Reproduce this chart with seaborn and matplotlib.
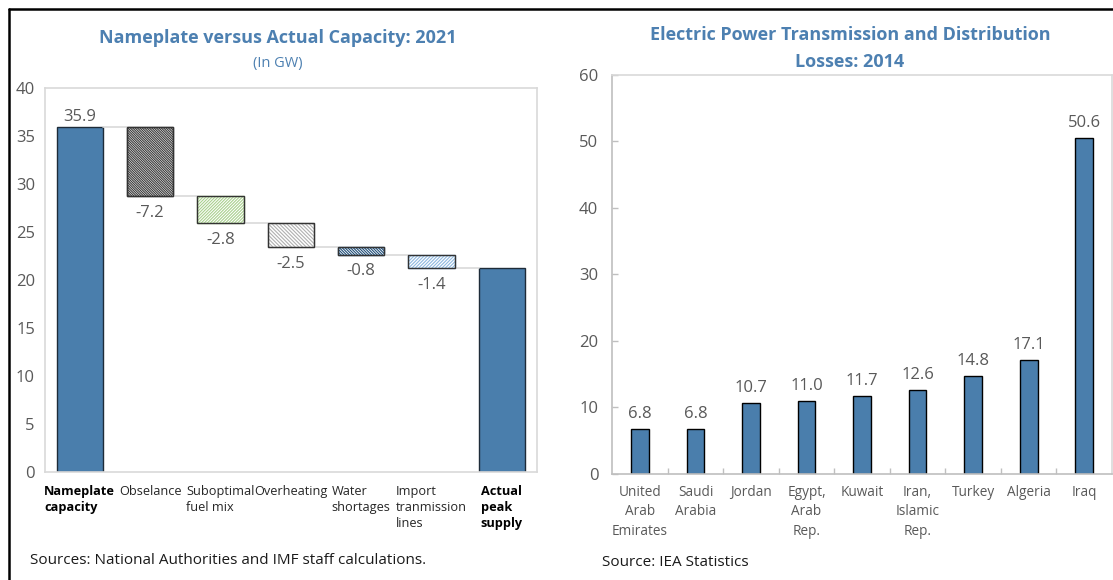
import numpy as np
import pandas as pd
import matplotlib.pyplot as plt
import matplotlib.patches as mpatches
import matplotlib.lines as mlines
import seaborn as sns

# data: waterfall (left)
steps = ["Nameplate\ncapacity", "Obselance", "Suboptimal\nfuel mix", "Overheating",
         "Water\nshortages", "Import\ntranmission\nlines", "Actual\npeak\nsupply"]
nameplate = 35.9
changes = [-7.2, -2.8, -2.5, -0.8, -1.4]

# data: losses (right)
countries = ["United\nArab\nEmirates", "Saudi\nArabia", "Jordan", "Egypt,\nArab\nRep.", "Kuwait",
             "Iran,\nIslamic\nRep.", "Turkey", "Algeria", "Iraq"]
losses = [6.8, 6.8, 10.7, 11.0, 11.7, 12.6, 14.8, 17.1, 50.6]

# hatch styles for the floating bars
hatch_styles = [("\\" * 14, "#3a3a3a"), ("/" * 11, "#a9d08e"), ("\\" * 9, "#b0b0b0"),
                ("\\" * 12, "#1f4e79"), ("/" * 10, "#8fb8e0")]

BLUE = "#4a7eac"
EDGE = "#1e2b38"
TITLE = "#4d80b1"
GRAY = "#595959"
SPINE = "#d9d9d9"

sns.set_theme(style="white")
plt.rcParams["font.family"] = ["Open Sans", "DejaVu Sans"]
plt.rcParams["hatch.linewidth"] = 0.8

fig = plt.figure(figsize=(11.13, 5.80), dpi=100)
ax1 = fig.add_axes([0.0401, 0.1862, 0.4424, 0.6621])
ax2 = fig.add_axes([0.5500, 0.1828, 0.4491, 0.6879])

# -------------------------------
# LEFT: WATERFALL
# -------------------------------
totals = nameplate + np.cumsum(changes)
actual = round(totals[-1], 1)
heights = [nameplate] + changes + [actual]
bottoms = [0, nameplate] + list(totals[:-1]) + [0]
wf = pd.DataFrame({"step": steps, "height": heights})

sns.barplot(data=wf, x="step", y="height", order=steps, color=BLUE, width=0.66,
            bottom=bottoms, edgecolor=EDGE, linewidth=1.0, saturation=1, ax=ax1)

bars = ax1.patches
for p, (h, hc) in zip(bars[1:-1], hatch_styles):
    p.set_facecolor("white")
    p.set_edgecolor(hc)
    p.set_hatch(h)
    ax1.add_patch(mpatches.Rectangle((p.get_x(), p.get_y()), p.get_width(), p.get_height(),
                                     fill=False, edgecolor="#333333", linewidth=1.0, zorder=3))

# connector lines
levels = [nameplate] + list(totals)
w = bars[0].get_width()
for i, lv in enumerate(levels):
    ax1.plot([i + w / 2, i + 1 - w / 2], [lv, lv], color=SPINE, lw=1.2, zorder=1)

cont = ax1.containers[0]
ax1.bar_label(cont, labels=[f"{nameplate:.1f}"] + [""] * (len(steps) - 1), padding=2,
              fontsize=12, color=GRAY)
ax1.bar_label(cont, labels=[""] + [f"{c:.1f}" for c in changes] + [""], padding=6,
              fontsize=12, color=GRAY)

ax1.set_ylim(0, 40)
ax1.set_xlim(-0.5, 6.5)
ax1.set_yticks(range(0, 41, 5))
ax1.set_xlabel("")
ax1.set_ylabel("")
ax1.tick_params(axis="y", length=0, labelsize=12, labelcolor=GRAY, pad=7)
ax1.tick_params(axis="x", length=0, labelsize=9.2, labelcolor="#262626", pad=9)
for i, t in enumerate(ax1.get_xticklabels()):
    t.set_multialignment("left")
    t.set_linespacing(1.3)
    if i in (0, len(steps) - 1):
        t.set_fontweight("bold")
        t.set_color("black")
for s in ax1.spines.values():
    s.set_color(SPINE)
    s.set_linewidth(1.2)

fig.text(0.2493, 1 - 38 / 580, "Nameplate versus Actual Capacity: 2021", ha="center", va="center",
         fontsize=13, fontweight="bold", color=TITLE)
fig.text(0.2493, 1 - 63 / 580, "(In GW)", ha="center", va="center", fontsize=10.5, color=TITLE)
fig.text(30 / 1113, 1 - 560 / 580, "Sources: National Authorities and IMF staff calculations.",
         ha="left", va="center", fontsize=11, color="#1a1a1a")

# -------------------------------
# RIGHT: LOSSES
# -------------------------------
ls = pd.DataFrame({"country": countries, "loss": losses})
sns.barplot(data=ls, x="country", y="loss", order=countries, color=BLUE, width=0.32,
            edgecolor="black", linewidth=1.0, saturation=1, ax=ax2)
ax2.bar_label(ax2.containers[0], labels=[f"{v:.1f}" for v in losses], padding=5,
              fontsize=12, color=GRAY)

ax2.set_ylim(0, 60)
ax2.set_xlim(-0.5, len(countries) - 0.5)
ax2.set_yticks(range(0, 61, 10))
ax2.set_xticks(np.arange(0.5, len(countries) - 1, 1), minor=True)
ax2.set_xlabel("")
ax2.set_ylabel("")
ax2.tick_params(axis="y", direction="in", length=4, width=1, color="#bfbfbf",
                labelsize=12, labelcolor=GRAY, pad=10, left=True)
ax2.tick_params(axis="x", which="major", length=0, labelsize=9.8, labelcolor=GRAY, pad=8)
ax2.tick_params(axis="x", which="minor", direction="in", length=4, width=1, color="#bfbfbf",
                bottom=True)
for t in ax2.get_xticklabels():
    t.set_linespacing(1.4)
for s in ax2.spines.values():
    s.set_color(SPINE)
    s.set_linewidth(1.2)
ax2.spines["left"].set_color("#bfbfbf")
ax2.spines["bottom"].set_color("#bfbfbf")

fig.text(850 / 1113, 1 - 35 / 580, "Electric Power Transmission and Distribution", ha="center",
         va="center", fontsize=13, fontweight="bold", color=TITLE)
fig.text(850 / 1113, 1 - 62 / 580, "Losses: 2014", ha="center", va="center",
         fontsize=13, fontweight="bold", color=TITLE)
fig.text(602 / 1113, 1 - 563 / 580, "Source: IEA Statistics", ha="left", va="center",
         fontsize=11, color="#1a1a1a")

# outer frame lines
fig.add_artist(mlines.Line2D([9 / 1113, 1], [1 - 9 / 580, 1 - 9 / 580], color="black", lw=1.8))
fig.add_artist(mlines.Line2D([9 / 1113, 9 / 1113], [0, 1 - 9 / 580], color="black", lw=1.8))

fig.savefig("out.png", dpi=100)
